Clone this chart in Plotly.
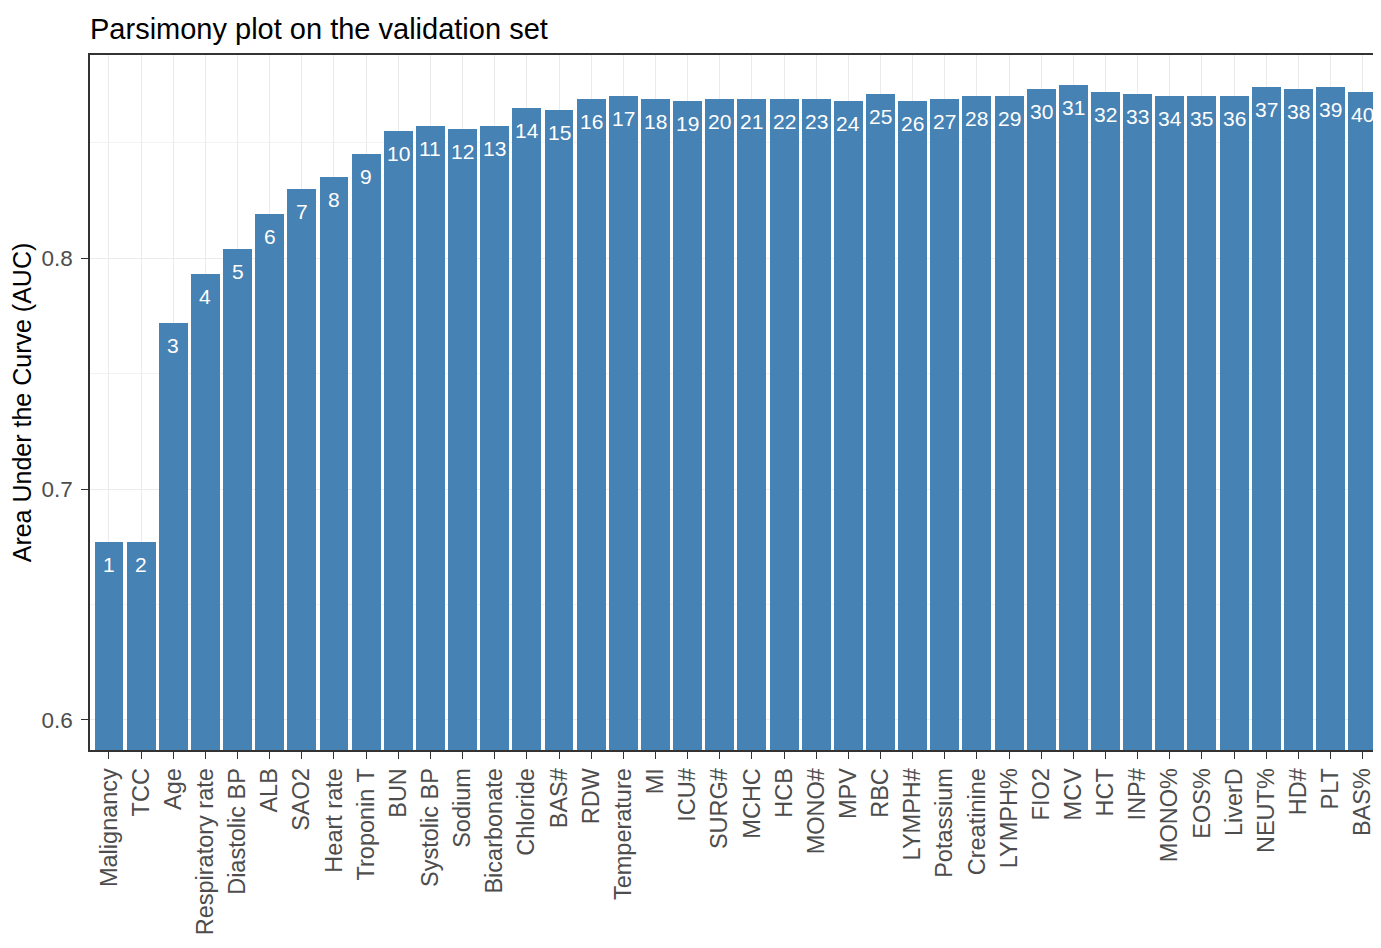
import plotly.graph_objects as go

features = ["Malignancy", "TCC", "Age", "Respiratory rate", "Diastolic BP", "ALB", "SAO2",
            "Heart rate", "Troponin T", "BUN", "Systolic BP", "Sodium", "Bicarbonate",
            "Chloride", "BAS#", "RDW", "Temperature", "MI", "ICU#", "SURG#", "MCHC", "HCB",
            "MONO#", "MPV", "RBC", "LYMPH#", "Potassium", "Creatinine", "LYMPH%", "FIO2",
            "MCV", "HCT", "INP#", "MONO%", "EOS%", "LiverD", "NEUT%", "HD#", "PLT", "BAS%"]
auc = [0.677, 0.677, 0.772, 0.793, 0.804, 0.819, 0.830, 0.835, 0.845, 0.855, 0.857,
       0.856, 0.857, 0.865, 0.864, 0.869, 0.870, 0.869, 0.868, 0.869, 0.869, 0.869,
       0.869, 0.868, 0.871, 0.868, 0.869, 0.870, 0.870, 0.873, 0.875, 0.872, 0.871,
       0.870, 0.870, 0.870, 0.874, 0.873, 0.874, 0.872]
labels = [str(i + 1) for i in range(len(features))]

FONT = "Liberation Sans, Arial, sans-serif"

# page body has an 8px default margin; figure is sized/offset to compensate
W, H = 1373, 926

fig = go.Figure()
fig.add_trace(go.Bar(
    x=list(range(len(features))), y=auc, width=0.9,
    marker=dict(color="#4682B4", line=dict(width=0)),
    hoverinfo="skip",
))

for i, (v, t) in enumerate(zip(auc, labels)):
    fig.add_annotation(x=i, y=v, text=t, showarrow=False, yanchor="top", yshift=-9,
                       font=dict(family=FONT, size=21, color="white"))

fig.update_layout(
    width=W, height=H,
    margin=dict(l=82, r=0, t=47, b=H - 742),
    paper_bgcolor="white", plot_bgcolor="white",
    showlegend=False, bargap=0,
    title=dict(text="Parsimony plot on the validation set", x=82 / W, xanchor="left",
               xref="container", y=1 - 21 / H, yref="container", yanchor="middle",
               font=dict(family=FONT, size=29, color="black")),
    xaxis=dict(
        range=[-0.59, 39.57], tickmode="array", tickvals=list(range(len(features))),
        ticktext=features, tickangle=-90, automargin=False,
        tickfont=dict(family=FONT, size=23.5, color="#4D4D4D"),
        showgrid=True, gridcolor="#EBEBEB", gridwidth=1,
        showline=True, linecolor="#333333", linewidth=1.5, mirror=True,
        ticks="outside", ticklen=7, tickcolor="#333333", zeroline=False,
    ),
    yaxis=dict(
        range=[0.587, 0.8879], tickvals=[0.6, 0.7, 0.8], ticktext=["0.6", "0.7", "0.8"],
        tickfont=dict(family=FONT, size=22.5, color="#4D4D4D"), automargin=False,
        showgrid=True, gridcolor="#EBEBEB", gridwidth=1,
        minor=dict(tickvals=[0.65, 0.75, 0.85], showgrid=True, gridcolor="#F2F2F2", gridwidth=1),
        showline=True, linecolor="#333333", linewidth=1.5, mirror=False,
        ticks="outside", ticklen=7, tickcolor="#333333", zeroline=False,
        ticklabelstandoff=4,
        title=dict(text="Area Under the Curve (AUC)", standoff=5,
                   font=dict(family=FONT, size=25, color="black")),
    ),
)

fig.write_html("out.html")
